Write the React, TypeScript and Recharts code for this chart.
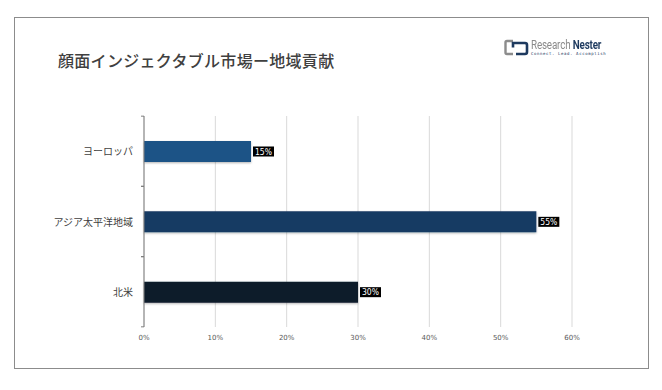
import React from 'react'
import { BarChart, Bar, XAxis, YAxis, CartesianGrid, Cell, LabelList } from 'recharts'

const regions = ['ヨーロッパ', 'アジア太平洋地域', '北米']
const shares = [15, 55, 30]
const barColors = ['#1f5286', '#173b64', '#0d1b2c']
const xTicks = [0, 10, 20, 30, 40, 50, 60]

const data = regions.map((name, i) => ({ name, share: shares[i] }))

const FONT = '"Noto Sans CJK JP", "Noto Sans", sans-serif'

const RegionTick = ({ x, y, payload }: any) => {
  const half = 35
  return (
    <g>
      <text x={x - 11} y={y} dy={4} textAnchor="end" fontSize={10} fill="#404040" fontFamily={FONT}>
        {payload.value}
      </text>
      <line x1={x - 3} x2={x} y1={y - half} y2={y - half} stroke="#7f7f7f" />
      <line x1={x - 3} x2={x} y1={y + half} y2={y + half} stroke="#7f7f7f" />
    </g>
  )
}

const ValueTag = ({ x, y, width, height, value }: any) => {
  const left = x + width + 2
  const cy = y + height / 2
  return (
    <g>
      <rect x={left} y={cy - 5} width={21} height={10} fill="#000" />
      <text x={left + 10.5} y={cy} dy={3} textAnchor="middle" fontSize={8.5} fill="#fff" fontFamily='"DejaVu Sans Condensed", "Liberation Sans", sans-serif'>
        {value}%
      </text>
    </g>
  )
}

const Logo = () => (
  <div style={{ position: 'absolute', left: 504, top: 39, display: 'flex', alignItems: 'center' }}>
    <svg width={25} height={17} viewBox="0 0 25 17">
      <path d="M9 2 H3 Q1.5 2 1.5 3.5 V13.5 Q1.5 15 3 15 H9" fill="none" stroke="#8c8c8c" strokeWidth={2.4} />
      <path d="M9 8.5 V4 H21 Q23 4 23 6 V13 Q23 15 21 15 H12" fill="none" stroke="#1e3a5f" strokeWidth={2.6} />
    </svg>
    <div style={{ marginLeft: 2, lineHeight: 1 }}>
      <div style={{ fontFamily: '"Liberation Sans Narrow", "Roboto", sans-serif', fontSize: 12, letterSpacing: -0.2, transform: 'scaleX(0.82)', transformOrigin: 'left' }}>
        <span style={{ color: '#8a8a8a' }}>Research </span>
        <span style={{ color: '#1e3a5f', fontWeight: 700 }}>Nester</span>
      </div>
      <div style={{ fontFamily: '"DejaVu Sans Mono", monospace', fontSize: 4, color: '#1e3a5f', letterSpacing: 0.6, marginTop: 1 }}>
        Connect. Lead. Accomplish
      </div>
    </div>
  </div>
)

export default function App() {
  return (
    <div style={{ position: 'absolute', left: 0, top: 0, width: 662, height: 390, background: '#fff', fontFamily: FONT }}>
      <div style={{ position: 'absolute', left: 14, top: 17, width: 633, height: 350, border: '1px solid #8c8c8c' }} />
      <div style={{ position: 'absolute', left: 58, top: 48, fontSize: 16, color: '#404040', fontWeight: 500, letterSpacing: 0.3 }}>
        顔面インジェクタブル市場ー地域貢献
      </div>
      <Logo />
      <div style={{ position: 'absolute', left: 0, top: 0 }}>
        <BarChart
          width={662}
          height={390}
          data={data}
          layout="vertical"
          barSize={21}
          margin={{ top: 116, right: 90, bottom: 33, left: 14 }}
        >
          <defs>
            <filter id="barShadow" x="-5%" y="-30%" width="110%" height="160%">
              <feDropShadow dx={0} dy={1} stdDeviation={1.2} floodColor="#000" floodOpacity={0.3} />
            </filter>
          </defs>
          <CartesianGrid horizontal={false} stroke="#d9d9d9" />
          <XAxis
            type="number"
            domain={[0, 60]}
            ticks={xTicks}
            tickFormatter={(v) => `${v}%`}
            axisLine={false}
            tickLine={false}
            height={30}
            tick={{ fontSize: 7, fill: '#595959', fontFamily: '"DejaVu Sans", sans-serif' }}
          />
          <YAxis
            type="category"
            dataKey="name"
            width={130}
            axisLine={{ stroke: '#7f7f7f' }}
            tickLine={false}
            tickSize={0}
            tickMargin={0}
            tick={<RegionTick />}
          />
          <Bar dataKey="share" isAnimationActive={false} style={{ filter: 'url(#barShadow)' }}>
            {data.map((_, i) => <Cell key={i} fill={barColors[i]} />)}
            <LabelList dataKey="share" content={<ValueTag />} />
          </Bar>
        </BarChart>
      </div>
    </div>
  )
}
